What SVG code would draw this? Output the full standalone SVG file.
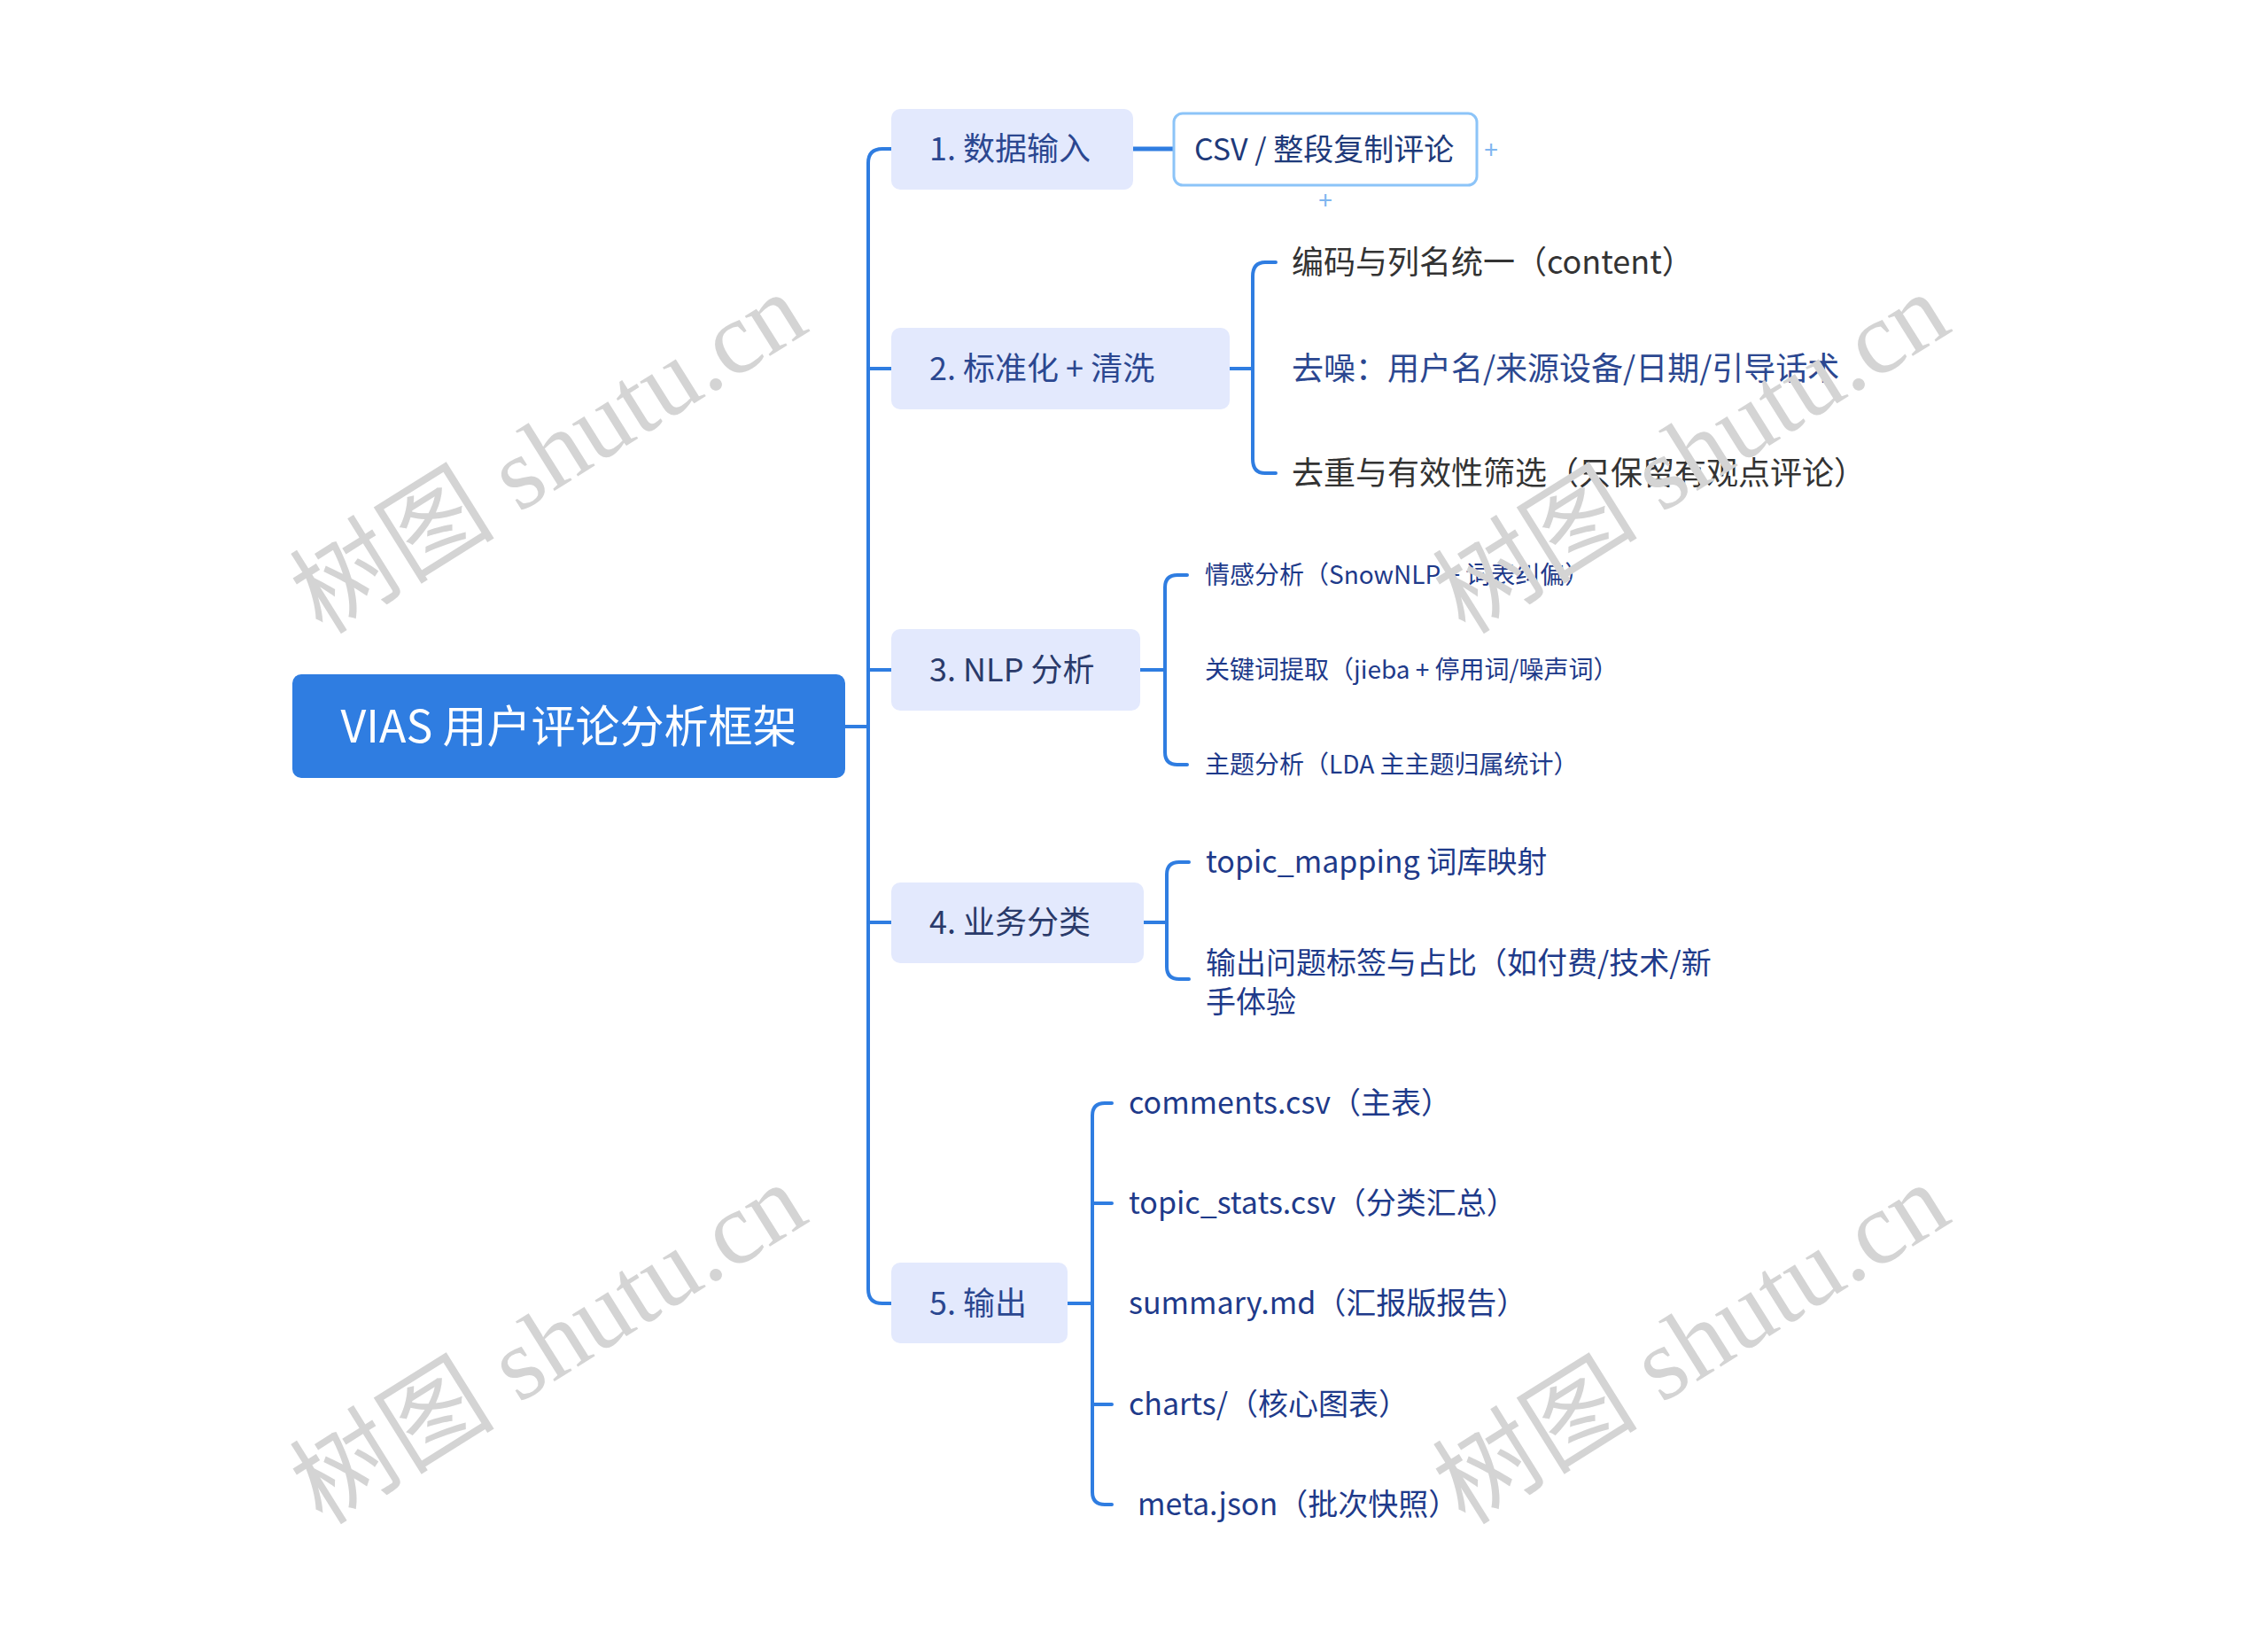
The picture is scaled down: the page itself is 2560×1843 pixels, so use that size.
<svg xmlns="http://www.w3.org/2000/svg" width="2560" height="1843" viewBox="0 0 2560 1843">
<style>
text{font-family:"Noto Sans CJK SC","Noto Sans",sans-serif;}
.l1{fill:#e3e9fd;}
.t1{font-size:36px;fill:#2b4790;}
.c{fill:none;stroke:#2f7de1;stroke-width:4;stroke-linecap:round;}
.wm{font-family:"Liberation Serif","Noto Sans CJK SC",serif;font-size:116px;fill:#d4d4d4;}
</style>
<rect width="2560" height="1843" fill="#fff"/>
<g id="connectors">
<path class="c" d="M954 820 H980"/>
<path class="c" d="M1006 168 H996 Q980 168 980 184 V1455 Q980 1471 996 1471 H1006"/>
<path class="c" d="M980 416 H1006 M980 756 H1006 M980 1041 H1006"/>
<path class="c" d="M1279 168 H1325" style="stroke-width:5"/>
<path class="c" d="M1388 416 H1414 M1440 296 H1428 Q1414 296 1414 312 V518 Q1414 534 1428 534 H1440"/>
<path class="c" d="M1287 756 H1315 M1340 649 H1329 Q1315 649 1315 663 V849 Q1315 863 1329 863 H1340"/>
<path class="c" d="M1291 1041 H1317 M1342 973 H1331 Q1317 973 1317 987 V1091 Q1317 1105 1331 1105 H1342"/>
<path class="c" d="M1205 1471 H1233 M1255 1245 H1247 Q1233 1245 1233 1259 V1684 Q1233 1698 1247 1698 H1255 M1233 1358 H1255 M1233 1585 H1255"/>
</g>
<g id="root"><rect x="330" y="761" width="624" height="117" rx="10" fill="#2f7de1"/><text x="642" y="838" font-size="50" fill="#fff" text-anchor="middle">VIAS 用户评论分析框架</text></g>
<g id="n1"><rect class="l1" x="1006" y="123" width="273" height="91" rx="10"/><text class="t1" x="1049" y="181">1. 数据输入</text></g>
<g id="n1a"><rect x="1325" y="128" width="342" height="81" rx="10" fill="#fff" stroke="#8cc4f8" stroke-width="3"/><text x="1348" y="181" font-size="34" fill="#1e3a7a">CSV / 整段复制评论</text>
<text x="1683" y="179" font-size="28" fill="#7fb6f0" text-anchor="middle">+</text><text x="1496" y="236" font-size="28" fill="#7fb6f0" text-anchor="middle">+</text></g>
<g id="n2"><rect class="l1" x="1006" y="370" width="382" height="92" rx="10"/><text class="t1" x="1049" y="429">2. 标准化 + 清洗</text></g>
<g id="n2a"><text x="1458" y="309" font-size="36" fill="#333">编码与列名统一（content）</text></g>
<g id="n2b"><text x="1458" y="429" font-size="36" fill="#2b4790">去噪：用户名/来源设备/日期/引导话术</text></g>
<g id="n2c"><text x="1458" y="547" font-size="36" fill="#333">去重与有效性筛选（只保留有观点评论）</text></g>
<g id="n3"><rect class="l1" x="1006" y="710" width="281" height="92" rx="10"/><text class="t1" x="1049" y="769" style="fill:#2a3a6a">3. NLP 分析</text></g>
<g id="n3a"><text x="1360" y="659" font-size="28" fill="#1e3a8a">情感分析（SnowNLP + 词表纠偏）</text></g>
<g id="n3b"><text x="1360" y="766" font-size="28" fill="#1e3a8a">关键词提取（jieba + 停用词/噪声词）</text></g>
<g id="n3c"><text x="1360" y="873" font-size="28" fill="#1e3a8a">主题分析（LDA 主主题归属统计）</text></g>
<g id="n4"><rect class="l1" x="1006" y="996" width="285" height="91" rx="10"/><text class="t1" x="1049" y="1054" style="fill:#2a3a6a">4. 业务分类</text></g>
<g id="n4a"><text x="1361" y="985" font-size="34" fill="#1e3a8a">topic_mapping 词库映射</text></g>
<g id="n4b"><text font-size="34" fill="#1e3a8a"><tspan x="1361" y="1099">输出问题标签与占比（如付费/技术/新</tspan><tspan x="1361" y="1143">手体验</tspan></text></g>
<g id="n5"><rect class="l1" x="1006" y="1425" width="199" height="91" rx="10"/><text class="t1" x="1049" y="1484">5. 输出</text></g>
<g id="n5a"><text x="1274" y="1257" font-size="34" fill="#1e3a8a">comments.csv（主表）</text></g>
<g id="n5b"><text x="1274" y="1370" font-size="34" fill="#1e3a8a">topic_stats.csv（分类汇总）</text></g>
<g id="n5c"><text x="1274" y="1483" font-size="34" fill="#1e3a8a">summary.md（汇报版报告）</text></g>
<g id="n5d"><text x="1274" y="1597" font-size="34" fill="#1e3a8a">charts/（核心图表）</text></g>
<g id="n5e"><text x="1284" y="1710" font-size="34" fill="#1e3a8a">meta.json（批次快照）</text></g>
<g id="watermarks">
<text class="wm" transform="translate(640 545) rotate(-32)" text-anchor="middle">树图 shutu.cn</text>
<text class="wm" transform="translate(1930 545) rotate(-32)" text-anchor="middle">树图 shutu.cn</text>
<text class="wm" transform="translate(640 1550) rotate(-32)" text-anchor="middle">树图 shutu.cn</text>
<text class="wm" transform="translate(1930 1550) rotate(-32)" text-anchor="middle">树图 shutu.cn</text>
</g>
</svg>
